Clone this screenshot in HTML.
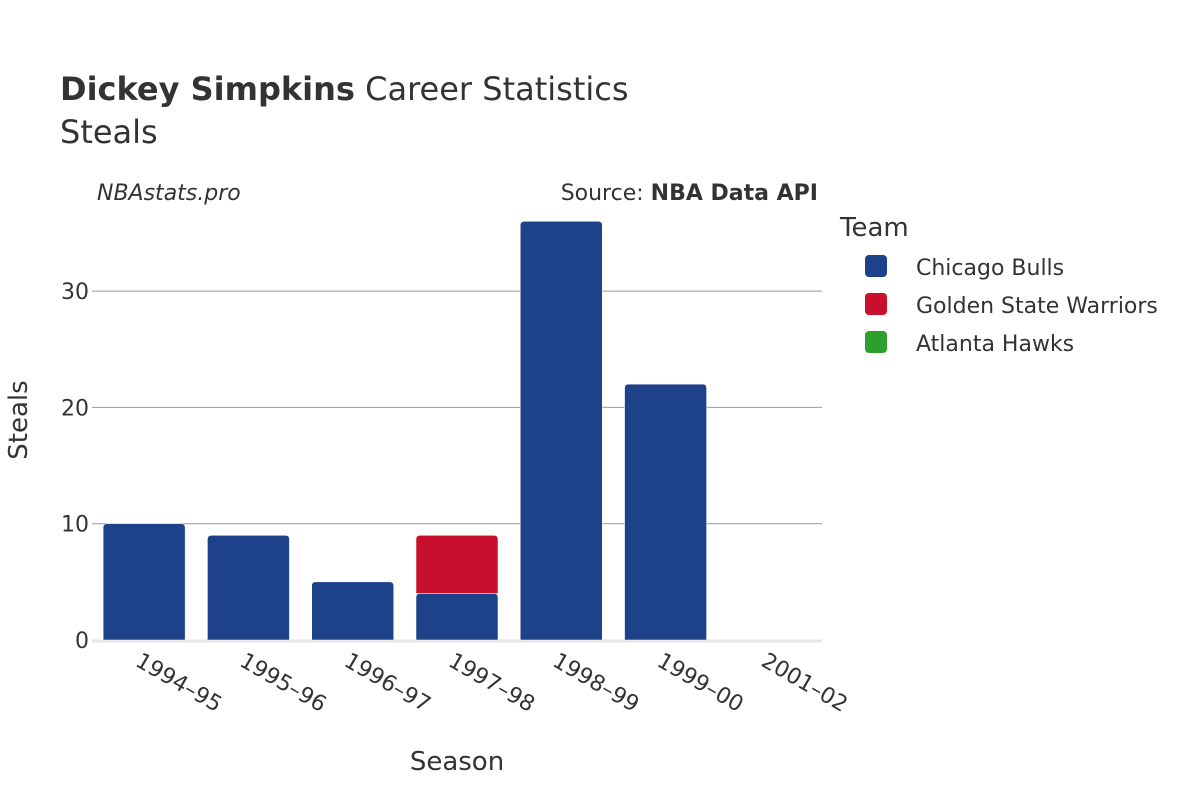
<!DOCTYPE html>
<html><head><meta charset="utf-8"><style>
body{margin:0;background:#fff;}
svg{font-family:"DejaVu Sans","Liberation Sans",sans-serif;}
</style></head><body>
<svg width="1200" height="800" id="c">
<rect width="1200" height="800" fill="#fff"/>
<text x="60" y="100" font-size="32" fill="#333"><tspan font-weight="bold">Dickey Simpkins</tspan> Career Statistics</text>
<text x="60" y="143" font-size="32" fill="#333">Steals</text>
<text x="97" y="200" font-size="22" font-style="italic" fill="#333">NBAstats.pro</text>
<text x="818" y="200" font-size="22" fill="#333" text-anchor="end">Source: <tspan font-weight="bold">NBA Data API</tspan></text>
<g id="grid"></g>
<g id="bars"></g>
<g id="xt"></g>
<text x="457" y="770" font-size="26" fill="#333" text-anchor="middle">Season</text>
<text transform="translate(27,420) rotate(-90)" font-size="26" fill="#333" text-anchor="middle">Steals</text>
<text x="840" y="236" font-size="26" fill="#333">Team</text>
<g id="legend"></g>
</svg>
<script>
const seasons=["1994–95","1995–96","1996–97","1997–98","1998–99","1999–00","2001–02"];
const teams=["Chicago Bulls","Golden State Warriors","Atlanta Hawks"];
const colors=["#1d428a","#c8102e","#2ca02c"];
const bulls=[10,9,5,4,36,22,0];
const warriors=[0,0,0,5,0,0,0];
const hawks=[0,0,0,0,0,0,0];
const yTicks=[0,10,20,30];
const series=[bulls,warriors,hawks];
const NS="http://www.w3.org/2000/svg";
const x0=92,x1=822,yBase=640,pxPer=11.63;
const step=(x1-x0)/seasons.length,bw=82;
const y=v=>yBase-v*pxPer;
const xc=i=>x0+step*(i+0.5);
function mk(t,a,p){const e=document.createElementNS(NS,t);for(const k in a)e.setAttribute(k,a[k]);p.appendChild(e);return e;}
const g=document.getElementById('grid');
yTicks.forEach(v=>{
 if(v>0){const l=mk('line',{x1:x0,x2:x1,y1:y(v),y2:y(v),stroke:'#999','stroke-width':1},g);
 
 }
 const t=mk('text',{x:x0-3,y:y(v)+8,'font-size':22,fill:'#333','text-anchor':'end'},g);t.textContent=v;
 
 
});
const zl=mk('line',{x1:x0,x2:x1,y1:yBase+1,y2:yBase+1,stroke:'#e5e5e5','stroke-width':3},g);


const b=document.getElementById('bars');
seasons.forEach((s,i)=>{
 let acc=0;
 series.forEach((ser,k)=>{
  const v=ser[i];if(v<=0)return;
  const top=y(acc+v),bot=y(acc);
  const r=mk('path',{d:`M${xc(i)-bw/2},${bot}V${top+4}Q${xc(i)-bw/2},${top} ${xc(i)-bw/2+4},${top}H${xc(i)+bw/2-4}Q${xc(i)+bw/2},${top} ${xc(i)+bw/2},${top+4}V${bot}Z`,fill:colors[k],stroke:'#fff','stroke-width':0.5},b);
  
  
  acc+=v;
 });
});
const xt=document.getElementById('xt');
seasons.forEach((s,i)=>{
 const t=mk('text',{transform:`translate(${xc(i)-10},${665}) rotate(30)`,'font-size':22,fill:'#333'},xt);
 t.textContent=s;
 
 
});
const lg=document.getElementById('legend');
teams.forEach((tm,k)=>{
 const yy=266+k*38;
 const r=mk('rect',{x:865,y:yy-11,width:22,height:22,rx:4,fill:colors[k]},lg);
 
 
 const t=mk('text',{x:916,y:yy+9,'font-size':22,fill:'#333'},lg);t.textContent=tm;
 
 
});
</script>
</body></html>
